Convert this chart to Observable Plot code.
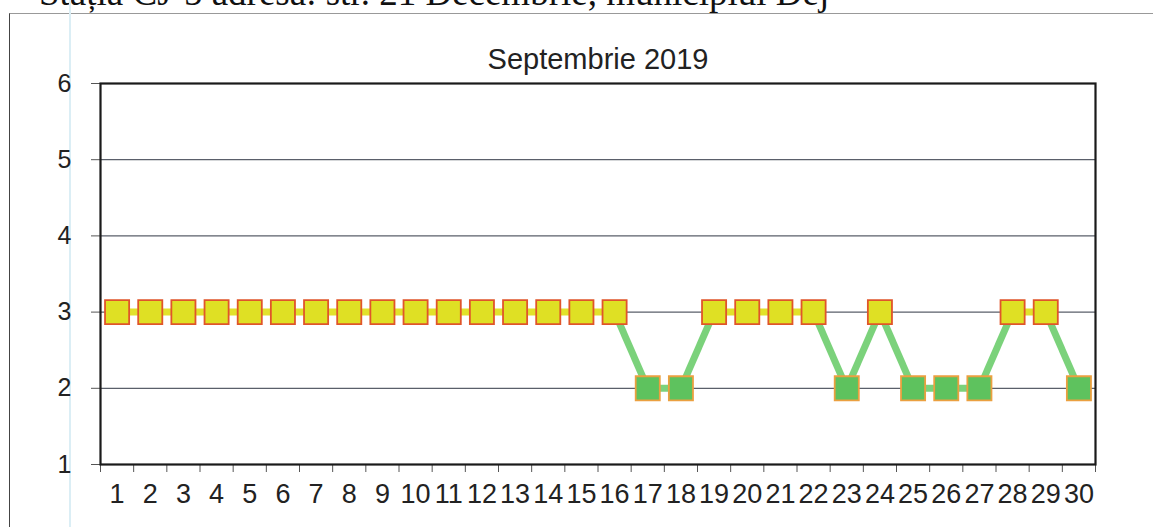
<!DOCTYPE html>
<html>
<head>
<meta charset="utf-8">
<script src="https://cdn.jsdelivr.net/npm/d3@7"></script>
<script src="https://cdn.jsdelivr.net/npm/@observablehq/plot@0.6"></script>
<style>
  html, body { margin: 0; padding: 0; background: #fff; overflow: hidden; }
  body { width: 1153px; height: 527px; position: relative; }
  #hdr { position: absolute; left: 39px; top: -26px; font-family: "Liberation Serif", "DejaVu Serif", serif; font-size: 37px; line-height: 1; color: #111; white-space: nowrap; }
  #outer { position: absolute; left: 9px; top: 13px; width: 1200px; height: 600px; border-left: 1.5px solid #444; border-top: 1.5px solid #999; }
  #margin { position: absolute; left: 69px; top: 0; width: 2px; height: 527px; background: #dbeef5; }
  #chart { position: absolute; left: 0; top: 0; }
  #chart g[aria-label="x-axis tick label"] { font-size: 27px; }
  #chart g[aria-label="y-axis tick label"] { font-size: 25px; }
</style>
</head>
<body>
<div id="hdr">Stația CJ-5 adresa: str. 21 Decembrie, municipiul Dej</div>
<div id="outer"></div>
<div id="margin"></div>
<div id="chart"></div>
<script>
const title = "Septembrie 2019";
const days = [1,2,3,4,5,6,7,8,9,10,11,12,13,14,15,16,17,18,19,20,21,22,23,24,25,26,27,28,29,30];
const values = [3,3,3,3,3,3,3,3,3,3,3,3,3,3,3,3,2,2,3,3,3,3,2,3,2,2,2,3,3,2];
const yTicks = [1,2,3,4,5,6];
const gridValues = [2,3,4,5];

const points = days.map((d, i) => ({day: d, value: values[i]}));
const segments = days.slice(0, -1).map((d, i) => ({
  x1: d, y1: values[i], x2: days[i + 1], y2: values[i + 1],
  both3: values[i] === 3 && values[i + 1] === 3
}));
const boundaries = [...days.map(d => d - 0.5), days[days.length - 1] + 0.5];

const chart = Plot.plot({
  width: 1153,
  height: 527,
  marginLeft: 100,
  marginRight: 58,
  marginTop: 83,
  marginBottom: 63,
  style: {fontFamily: "Liberation Sans, Arial, sans-serif", fontSize: "25px", background: "transparent", color: "#222"},
  x: {type: "linear", domain: [0.5, 30.5]},
  y: {domain: [1, 6]},
  marks: [
    Plot.ruleY(gridValues, {stroke: "#5a5f6a", strokeWidth: 1.2}),
    Plot.axisY({ticks: yTicks, tickSize: 9, tickPadding: 20, tickFormat: d => String(d), stroke: "#555", label: null}),
    Plot.axisX({ticks: boundaries, tickSize: 8, tickFormat: () => "", stroke: "#555", label: null}),
    Plot.axisX({ticks: days, tickSize: 0, tickPadding: 19, tickFormat: d => String(d), label: null}),
    Plot.frame({stroke: "#1a1a1a", strokeWidth: 2.2}),
    Plot.link(segments, {x1: "x1", y1: "y1", x2: "x2", y2: "y2",
      stroke: d => d.both3 ? "#e2e22a" : "#7bd27b", strokeWidth: 7}),
    Plot.dot(points, {x: "day", y: "value", symbol: "square", r: 13.6,
      fill: d => d.value === 3 ? "#dfe024" : "#5ec25e",
      stroke: d => d.value === 3 ? "#e0552a" : "#eba040", strokeWidth: 1.8}),
    Plot.text([title], {frameAnchor: "top", dy: -35, fontSize: 29, fill: "#222", text: d => d})
  ]
});
document.getElementById("chart").appendChild(chart);
</script>
</body>
</html>
